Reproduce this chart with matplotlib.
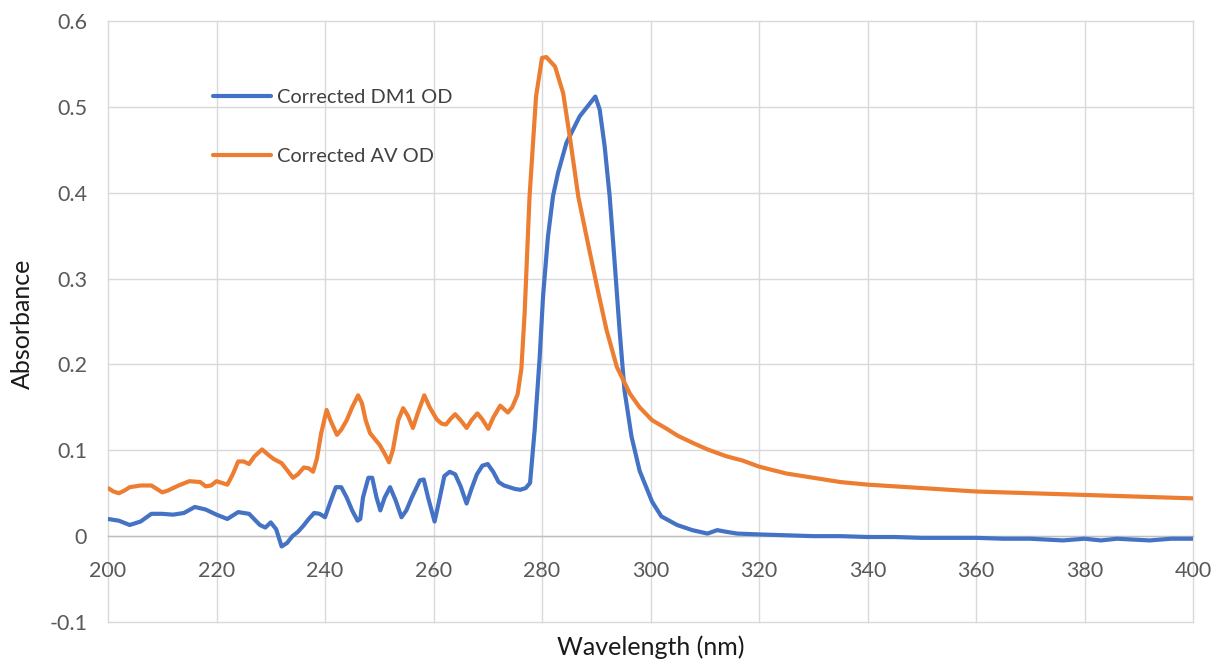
import matplotlib
matplotlib.use("Agg")
import matplotlib.pyplot as plt

plt.rcParams['font.family'] = ['Lato', 'DejaVu Sans']

# ---- data ----
dm1_nm = [200, 202, 204, 206, 208, 210, 212, 214, 216, 218, 220, 222, 224, 226,
          228, 229, 230, 231, 232, 233, 234, 235, 236, 237, 238, 239, 240, 241,
          242, 243, 244, 245, 246, 246.5, 247, 248, 248.7, 249.5, 250.2, 251,
          252, 253, 254.1, 255, 256, 257.5, 258.2, 259, 260.2, 261, 262, 263,
          264, 265, 266.1, 267, 268, 269, 270, 271, 272, 273, 274, 275, 276,
          277, 277.8, 278.65, 279.57, 280.2, 281.1, 282.03, 282.95, 284.5,
          286.95, 289.83, 290.63, 291.55, 292.47, 293.4, 294.3, 295.2, 296.5,
          298.0, 300.3, 302, 304.9, 307.7, 310.5, 312.3, 314, 316, 320, 325,
          330, 335, 340, 345, 350, 355, 360, 365, 370, 376, 380, 383, 386, 392,
          396, 400]
dm1_od = [0.020, 0.018, 0.013, 0.017, 0.026, 0.026, 0.025, 0.027, 0.034, 0.031,
          0.025, 0.020, 0.028, 0.026, 0.013, 0.010, 0.016, 0.008, -0.012,
          -0.008, 0.000, 0.005, 0.012, 0.020, 0.027, 0.026, 0.022, 0.040,
          0.057, 0.057, 0.045, 0.030, 0.018, 0.020, 0.045, 0.068, 0.068, 0.045,
          0.030, 0.045, 0.057, 0.042, 0.022, 0.030, 0.045, 0.065, 0.066, 0.045,
          0.017, 0.040, 0.070, 0.075, 0.072, 0.058, 0.038, 0.055, 0.072, 0.082,
          0.084, 0.075, 0.063, 0.059, 0.057, 0.055, 0.054, 0.056, 0.062, 0.124,
          0.208, 0.280, 0.349, 0.396, 0.423, 0.458, 0.489, 0.512, 0.497, 0.454,
          0.396, 0.318, 0.240, 0.170, 0.116, 0.076, 0.040, 0.023, 0.013, 0.007,
          0.003, 0.007, 0.005, 0.003, 0.002, 0.001, 0.000, 0.000, -0.001,
          -0.001, -0.002, -0.002, -0.002, -0.003, -0.003, -0.005, -0.003,
          -0.005, -0.003, -0.005, -0.003, -0.003]

av_nm = [200, 201, 202, 203, 204, 206, 208, 209, 210, 211, 213, 215, 217, 218,
         219, 220, 221, 222, 223, 224, 225, 226, 227, 228.4, 229.5, 230.5, 232,
         233, 234.1, 235, 236.1, 237, 237.8, 238.5, 239.3, 240.3, 241, 242.2,
         243, 244, 245, 246.1, 246.8, 247.5, 248.3, 249.2, 250.1, 251, 251.8,
         252.5, 253.5, 254.4, 255.3, 256.2, 257.2, 258.3, 259.3, 260.6, 261.5,
         262.3, 263.2, 264, 265, 266.1, 267, 268.1, 269, 270.1, 271, 272.3,
         273.7, 274.5, 275.5, 276.2, 276.8, 277.7, 278.9, 280, 280.8, 282.4,
         283.9, 285.2, 286.7, 288.6, 290.4, 291.9, 293.8, 296.2, 298, 300.3,
         303, 305, 308, 310.5, 314, 317, 320, 325, 330, 335, 340, 345, 350,
         355, 360, 365, 370, 375, 380, 385, 390, 395, 400]
av_od = [0.056, 0.052, 0.050, 0.053, 0.057, 0.059, 0.059, 0.055, 0.051, 0.053,
         0.059, 0.064, 0.063, 0.058, 0.059, 0.064, 0.062, 0.060, 0.072, 0.087,
         0.087, 0.084, 0.093, 0.101, 0.095, 0.090, 0.085, 0.077, 0.068, 0.072,
         0.080, 0.079, 0.075, 0.090, 0.120, 0.147, 0.135, 0.118, 0.124, 0.135,
         0.150, 0.164, 0.155, 0.135, 0.120, 0.113, 0.106, 0.096, 0.086, 0.100,
         0.135, 0.149, 0.140, 0.126, 0.145, 0.164, 0.150, 0.136, 0.131, 0.130,
         0.137, 0.142, 0.135, 0.126, 0.135, 0.143, 0.136, 0.125, 0.138, 0.152,
         0.144, 0.150, 0.165, 0.195, 0.260, 0.395, 0.512, 0.557, 0.558, 0.547,
         0.516, 0.462, 0.395, 0.337, 0.283, 0.240, 0.197, 0.166, 0.150, 0.135,
         0.125, 0.117, 0.108, 0.101, 0.093, 0.088, 0.081, 0.073, 0.068, 0.063,
         0.060, 0.058, 0.056, 0.054, 0.052, 0.051, 0.050, 0.049, 0.048, 0.047,
         0.046, 0.045, 0.044]

x_ticks = [200, 220, 240, 260, 280, 300, 320, 340, 360, 380, 400]
y_ticks = [-0.1, 0, 0.1, 0.2, 0.3, 0.4, 0.5, 0.6]
y_tick_labels = ['-0.1', '0', '0.1', '0.2', '0.3', '0.4', '0.5', '0.6']
series_labels = ['Corrected DM1 OD', 'Corrected AV OD']

BLUE = '#4472C4'
ORANGE = '#ED7D31'
GRID = '#d9d9d9'

fig = plt.figure(figsize=(12.16, 6.62), dpi=100)
ax = fig.add_axes([108/1216, 1-622/662, (1193-108)/1216, (622-21)/662])

ax.plot(dm1_nm, dm1_od, color=BLUE, lw=3.0, label=series_labels[0],
        solid_capstyle='round', solid_joinstyle='round', zorder=3)
ax.plot(av_nm, av_od, color=ORANGE, lw=3.0, label=series_labels[1],
        solid_capstyle='round', solid_joinstyle='round', zorder=3)

ax.set_xlim(200, 400)
ax.set_ylim(-0.1, 0.6)
ax.set_xticks(x_ticks)
ax.set_yticks(y_ticks)
ax.set_yticklabels(y_tick_labels)

ax.grid(True, color=GRID, lw=1.0, clip_on=False, zorder=0)
ax.set_axisbelow(True)
for s in ['left', 'right', 'top']:
    ax.spines[s].set_visible(False)
ax.spines['bottom'].set_position(('data', 0))
ax.spines['bottom'].set_color('#bfbfbf')
ax.spines['bottom'].set_linewidth(1.0)

ax.tick_params(axis='both', length=0, labelsize=15.5, labelcolor='#595959')
ax.tick_params(axis='y', pad=15)
ax.tick_params(axis='x', pad=18)

fig.text(0.5*(108+1193)/1216, 1-647/662, 'Wavelength (nm)', ha='center',
         va='center', fontsize=18, color='#1a1a1a')
fig.text(22/1216, 1-(255+393)/2/662, 'Absorbance', ha='center', va='center',
         rotation=90, fontsize=18, color='#1a1a1a')

leg = ax.legend(loc='upper left', bbox_to_anchor=((213-108)/1085, (622-89)/601),
                frameon=False, fontsize=14.4, handlelength=2.9,
                handletextpad=0.3, labelspacing=2.08, borderpad=0,
                borderaxespad=0)
for t in leg.get_texts():
    t.set_color('#404040')

fig.savefig('out.png', dpi=100)
